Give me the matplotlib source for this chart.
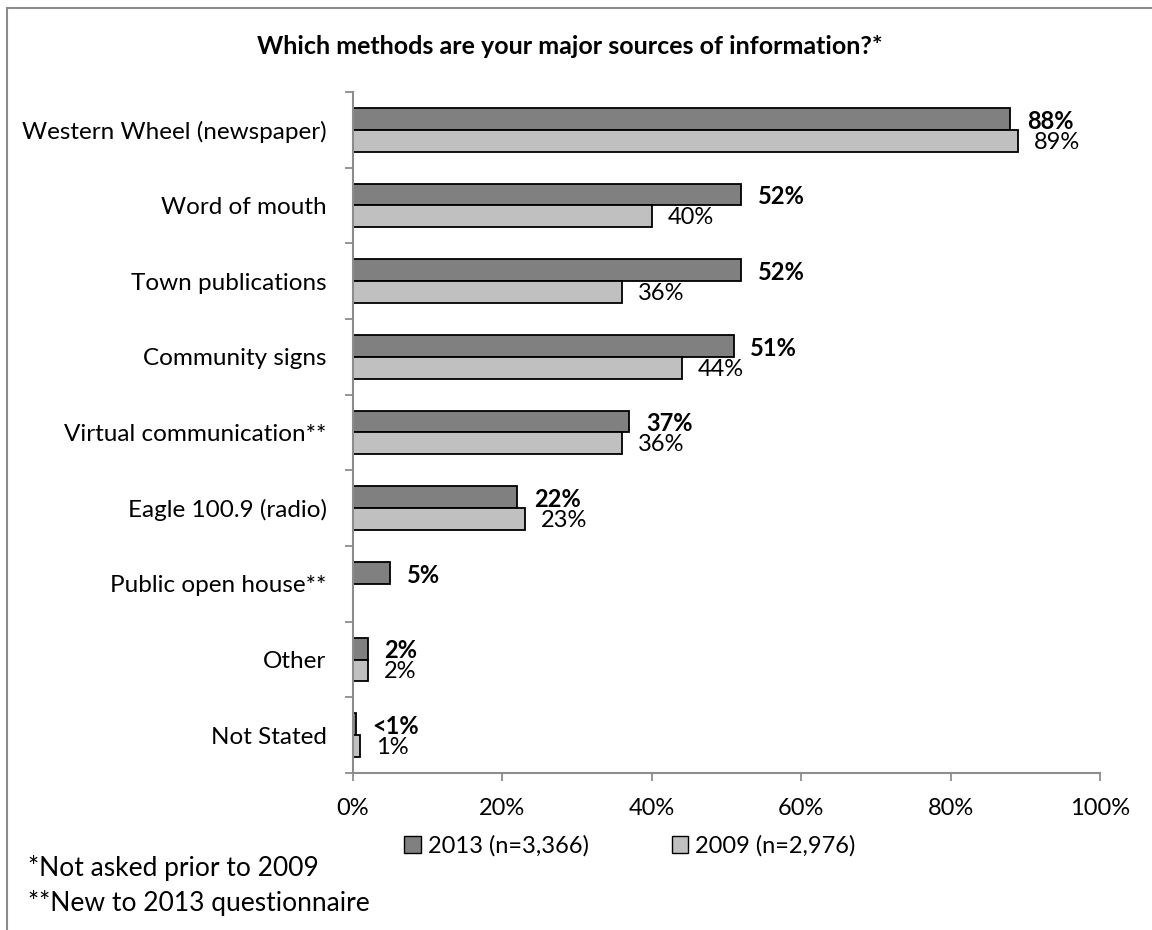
import numpy as np
import matplotlib.pyplot as plt
from matplotlib.patches import Rectangle

plt.rcParams['font.family'] = ['Lato', 'DejaVu Sans']

categories = ['Western Wheel (newspaper)', 'Word of mouth', 'Town publications',
              'Community signs', 'Virtual communication**', 'Eagle 100.9 (radio)',
              'Public open house**', 'Other', 'Not Stated']
vals_2013 = [88, 52, 52, 51, 37, 22, 5, 2, 0.4]
vals_2009 = [89, 40, 36, 44, 36, 23, np.nan, 2, 1]
labels_2013 = ['88%', '52%', '52%', '51%', '37%', '22%', '5%', '2%', '<1%']
labels_2009 = ['89%', '40%', '36%', '44%', '36%', '23%', '', '2%', '1%']
series_names = ['2013 (n=3,366)', '2009 (n=2,976)']
title = 'Which methods are your major sources of information?*'
notes = ['*Not asked prior to 2009', '**New to 2013 questionnaire']

W, H = 1152, 930
fig = plt.figure(figsize=(W / 100, H / 100), dpi=100)
ax = fig.add_axes([353 / W, 1 - 773 / H, (1100 - 353) / W, (773 - 92) / H])

# outer frame, cut off at right/bottom like the original
fig.patches.append(Rectangle((7 / W, -0.1), 1.2, 1 - 8 / H + 0.1,
                             transform=fig.transFigure, fill=False,
                             edgecolor='#8c8c8c', linewidth=1.5))

y = np.arange(len(categories))
h = 0.29
ax.barh(y - h / 2, vals_2013, height=h, color='#808080', edgecolor='black', linewidth=1.3,
        label=series_names[0])
ax.barh(y + h / 2, vals_2009, height=h, color='#c0c0c0', edgecolor='black', linewidth=1.3,
        label=series_names[1])

for i in range(len(categories)):
    ax.text(vals_2013[i] + 2.2, y[i] - h / 2 + 0.03, labels_2013[i], fontsize=17,
            fontweight='bold', va='center', ha='left')
    if labels_2009[i]:
        ax.text(vals_2009[i] + 2.1, y[i] + h / 2 + 0.02, labels_2009[i], fontsize=17,
                va='center', ha='left')

ax.set_xlim(0, 100)
ax.set_ylim(len(categories) - 0.5, -0.5)
ax.set_xticks(np.arange(0, 101, 20))
ax.set_xticklabels([f'{t}%' for t in range(0, 101, 20)], fontsize=17)
ax.set_yticks(y)
ax.set_yticklabels(categories, fontsize=17.5)
ax.set_yticks(np.arange(-0.5, len(categories), 1), minor=True)
ax.tick_params(axis='y', which='major', length=0, pad=19)
ax.tick_params(axis='y', which='minor', length=6, width=1.3, color='#8c8c8c', direction='out')
ax.tick_params(axis='x', length=6, width=1.3, color='#8c8c8c', direction='out', pad=12)
for s in ['top', 'right']:
    ax.spines[s].set_visible(False)
for s in ['left', 'bottom']:
    ax.spines[s].set_color('#8c8c8c')
    ax.spines[s].set_linewidth(1.5)

fig.text(0.495, 1 - 46 / H, title, fontsize=18, fontweight='bold', ha='center', va='center')

leg = fig.legend(loc='center', bbox_to_anchor=(630 / W, 1 - 846 / H), ncol=2, frameon=False,
                 fontsize=17, handlelength=0.7, handleheight=0.7, handletextpad=0.3,
                 columnspacing=3.5)
for p in leg.get_patches():
    p.set_linewidth(1.0)

fig.text(28 / W, 1 - 868 / H, notes[0], fontsize=19, va='center', ha='left')
fig.text(28 / W, 1 - 903 / H, notes[1], fontsize=19, va='center', ha='left')

fig.savefig('out.png', dpi=100)
